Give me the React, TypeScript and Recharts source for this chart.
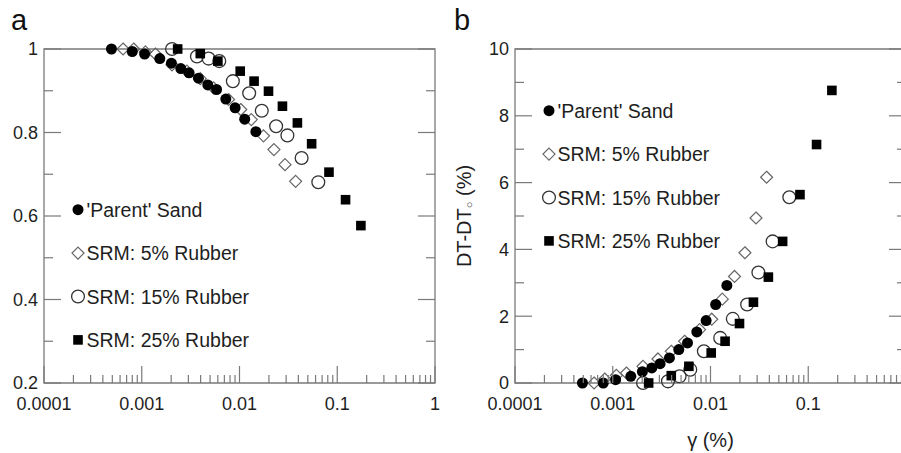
import React from 'react';
import { ScatterChart, Scatter, XAxis, YAxis, ReferenceArea, Legend } from 'recharts';

const FONT = "'Liberation Sans', Arial, sans-serif";
const AXIS = '#7a7a7a';
const TEXT = '#1e1e1e';

// shear strain γ (%) – the same test steps are used in both panels
const parentStrain = [0.00049, 0.0008, 0.00107, 0.00153, 0.00201, 0.00251, 0.00305, 0.0038, 0.00474, 0.00582, 0.00724, 0.00902, 0.0113, 0.0147];
const parentGG0 = [1.0, 0.994, 0.988, 0.977, 0.966, 0.953, 0.943, 0.93, 0.914, 0.903, 0.88, 0.859, 0.832, 0.802];
const parentDT = [0, 0, 0.1, 0.2, 0.34, 0.45, 0.58, 0.75, 1.0, 1.2, 1.53, 1.87, 2.35, 2.92];

const r5Strain = [0.000644, 0.000828, 0.00109, 0.00138, 0.00204, 0.0029, 0.00397, 0.00543, 0.00773, 0.0103, 0.0132, 0.0176, 0.0225, 0.0292, 0.0375];
const r5GG0 = [1.0, 1.0, 0.993, 0.988, 0.962, 0.947, 0.929, 0.907, 0.879, 0.855, 0.831, 0.792, 0.759, 0.723, 0.683];
const r5DT = [0, 0.12, 0.23, 0.3, 0.5, 0.72, 0.95, 1.25, 1.6, 1.91, 2.51, 3.19, 3.9, 4.94, 6.16];

const r15Strain = [0.00204, 0.00367, 0.00483, 0.00621, 0.00855, 0.01256, 0.0169, 0.0237, 0.0309, 0.0432, 0.064];
const r15GG0 = [1.0, 0.982, 0.977, 0.971, 0.923, 0.894, 0.852, 0.815, 0.793, 0.739, 0.681];
const r15DT = [0, 0.05, 0.2, 0.4, 0.95, 1.35, 1.92, 2.35, 3.31, 4.24, 5.56];

const r25Strain = [0.00233, 0.00397, 0.00601, 0.01017, 0.0141, 0.0198, 0.0275, 0.0391, 0.0547, 0.0823, 0.1216, 0.1745];
const r25GG0 = [1.0, 0.989, 0.971, 0.947, 0.923, 0.899, 0.863, 0.823, 0.773, 0.705, 0.639, 0.577];
const r25DT = [0, 0.22, 0.5, 0.9, 1.25, 1.78, 2.42, 3.17, 4.24, 5.64, 7.14, 8.76];

// axis ticks
const decades = [0.0001, 0.001, 0.01, 0.1, 1];
const minorSteps = [2, 3, 4, 5, 6, 7, 8, 9];
const xTicks = [...decades, ...decades.slice(0, -1).flatMap((d) => minorSteps.map((m) => m * d))];
const yTicksA = [0.2, 0.3, 0.4, 0.5, 0.6, 0.7, 0.8, 0.9, 1];
const yMajorA = [0.2, 0.4, 0.6, 0.8, 1];
const yTicksB = [0, 1, 2, 3, 4, 5, 6, 7, 8, 9, 10];
const yMajorB = [0, 2, 4, 6, 8, 10];

const seriesNames = ["'Parent' Sand", 'SRM: 5% Rubber', 'SRM: 15% Rubber', 'SRM: 25% Rubber'];

type Pt = { x: number; y: number };
const zip = (xs: number[], ys: number[]): Pt[] => xs.map((x, i) => ({ x, y: ys[i] }));

// ── markers ───────────────────────────────────────────────────────────────
const FilledCircle = ({ cx, cy }: any) => <circle cx={cx} cy={cy} r={5.5} fill="#000" />;
const OpenCircle = ({ cx, cy }: any) => <circle cx={cx} cy={cy} r={6.4} fill="none" stroke="#333" strokeWidth={1.3} />;
const OpenDiamond = ({ cx, cy }: any) => (
  <path d={`M${cx},${cy - 6}L${cx + 6},${cy}L${cx},${cy + 6}L${cx - 6},${cy}Z`} fill="none" stroke="#666" strokeWidth={1.2} />
);
const FilledSquare = ({ cx, cy }: any) => <rect x={cx - 4.8} y={cy - 4.8} width={9.6} height={9.6} fill="#000" />;

const markers = [FilledCircle, OpenDiamond, OpenCircle, FilledSquare];

function LegendBox() {
  const gap = 43.4;
  return (
    <svg width={230} height={gap * 4} style={{ overflow: 'visible' }}>
      {seriesNames.map((name, i) => {
        const M = markers[i];
        const cy = gap / 2 + i * gap;
        return (
          <g key={name}>
            <M cx={8} cy={cy} />
            <text x={16.5} y={cy} dy="0.36em" fontSize={19.5} fill={TEXT} fontFamily={FONT}>{name}</text>
          </g>
        );
      })}
    </svg>
  );
}

// ── ticks ─────────────────────────────────────────────────────────────────
const XTick = ({ x, y, payload }: any) => {
  const major = decades.includes(payload.value);
  return (
    <g>
      <line x1={x} x2={x} y1={y} y2={y - (major ? 17 : 8)} stroke={AXIS} strokeWidth={1.2} />
      {major && (
        <text x={x} y={y + 27} textAnchor="middle" fontSize={18} fill={TEXT} fontFamily={FONT}>{String(payload.value)}</text>
      )}
    </g>
  );
};

// inward ticks on the left frame edge, mirrored on the right edge (plotWidth away)
const makeYTick = (majors: number[], plotWidth: number) => ({ x, y, payload }: any) => {
  const major = majors.includes(payload.value);
  const len = major ? 17 : 9;
  const xr = x + plotWidth;
  return (
    <g>
      <line x1={x} x2={x + len} y1={y} y2={y} stroke={AXIS} strokeWidth={1.2} />
      <line x1={xr} x2={xr - len} y1={y} y2={y} stroke={AXIS} strokeWidth={1.2} />
      {major && (
        <text x={x - 6} y={y} dy="0.36em" textAnchor="end" fontSize={18} fill={TEXT} fontFamily={FONT}>{String(payload.value)}</text>
      )}
    </g>
  );
};

interface PanelProps {
  width: number;
  yAxisWidth: number;
  rightGap: number;
  yDomain: [number, number];
  yTicks: number[];
  yMajor: number[];
  data: Pt[][];
  legendPos: { left: number; top: number };
  withTitles?: boolean;
}

function Panel({ width, yAxisWidth, rightGap, yDomain, yTicks, yMajor, data, legendPos, withTitles }: PanelProps) {
  const [parent, r5, r15, r25] = data;
  const plotWidth = width - yAxisWidth - rightGap;
  return (
    <ScatterChart width={width} height={453} margin={{ top: 49, right: rightGap, bottom: 0, left: 0 }}>
      <XAxis
        dataKey="x" type="number" scale="log" domain={[0.0001, 1]} ticks={xTicks} interval={0}
        height={70} axisLine={false} tickLine={false} tickSize={0} tickMargin={0} tick={XTick}
        label={withTitles ? {
          content: ({ viewBox }: any) => (
            <text x={viewBox.x + viewBox.width / 2} y={viewBox.y + 64} textAnchor="middle" fontSize={20} fill={TEXT} fontFamily={FONT}>γ (%)</text>
          ),
        } : undefined}
      />
      <YAxis
        dataKey="y" type="number" domain={yDomain} ticks={yTicks} interval={0} width={yAxisWidth}
        axisLine={false} tickLine={false} tickSize={0} tickMargin={0} tick={makeYTick(yMajor, plotWidth)}
        label={withTitles ? {
          content: ({ viewBox }: any) => {
            const cx = viewBox.x + 14;
            const cy = viewBox.y + viewBox.height / 2;
            return (
              <text x={cx} y={cy} textAnchor="middle" dominantBaseline="central" transform={`rotate(-90 ${cx} ${cy})`} fontSize={20} fill={TEXT} fontFamily={FONT}>
                DT-DT<tspan fontSize={11} dy={5}>○</tspan><tspan dy={-5}> (%)</tspan>
              </text>
            );
          },
        } : undefined}
      />
      <ReferenceArea x1={0.0001} x2={1} y1={yDomain[0]} y2={yDomain[1]} fill="none" stroke={AXIS} strokeWidth={1.3} ifOverflow="visible" />
      <Scatter name={seriesNames[1]} data={r5} shape={OpenDiamond} isAnimationActive={false} />
      <Scatter name={seriesNames[2]} data={r15} shape={OpenCircle} isAnimationActive={false} />
      <Scatter name={seriesNames[3]} data={r25} shape={FilledSquare} isAnimationActive={false} />
      <Scatter name={seriesNames[0]} data={parent} shape={FilledCircle} isAnimationActive={false} />
      <Legend
        layout="vertical" align="center" verticalAlign="middle"
        wrapperStyle={{ left: legendPos.left, top: legendPos.top, width: 230 }}
        content={() => <LegendBox />}
      />
    </ScatterChart>
  );
}

export default function App() {
  const leftData = [zip(parentStrain, parentGG0), zip(r5Strain, r5GG0), zip(r15Strain, r15GG0), zip(r25Strain, r25GG0)];
  const rightData = [zip(parentStrain, parentDT), zip(r5Strain, r5DT), zip(r15Strain, r15DT), zip(r25Strain, r25DT)];
  const panelLetter: React.CSSProperties = { position: 'absolute', top: 2, fontSize: 29, fontFamily: FONT, color: '#111', lineHeight: '36px' };
  return (
    <div style={{ position: 'absolute', left: 0, top: 0, width: 901, height: 453, overflow: 'hidden', background: '#fff', fontFamily: FONT }}>
      <div style={{ position: 'absolute', left: 0, top: 0 }}>
        <Panel width={450} yAxisWidth={44} rightGap={15} yDomain={[0.2, 1]} yTicks={yTicksA} yMajor={yMajorA}
          data={leftData} legendPos={{ left: 69.7, top: 187.6 }} />
      </div>
      <div style={{ position: 'absolute', left: 450, top: 0 }}>
        <Panel width={470} yAxisWidth={65} rightGap={14} yDomain={[0, 10]} yTicks={yTicksB} yMajor={yMajorB}
          data={rightData} legendPos={{ left: 91, top: 89 }} withTitles />
      </div>
      <div style={{ ...panelLetter, left: 11 }}>a</div>
      <div style={{ ...panelLetter, left: 454 }}>b</div>
    </div>
  );
}
